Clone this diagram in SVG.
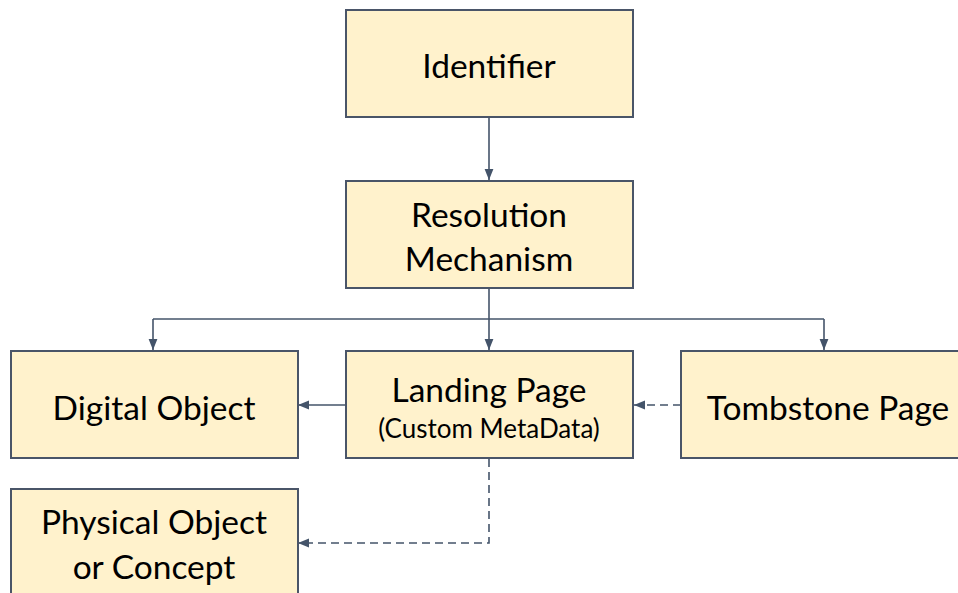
<svg xmlns="http://www.w3.org/2000/svg" width="958" height="593" viewBox="0 0 958 593">
<style>
.box{fill:#FFF2CC;stroke:#4A5568;stroke-width:2}
.t{font-family:Lato,"Open Sans","Liberation Sans",sans-serif;font-size:33.5px;fill:#000;text-anchor:middle}
.s{font-size:26px}
.c{fill:none;stroke:#44546A;stroke-width:1.6}
.d{stroke-dasharray:8,5}
</style>
<defs>
<marker id="ah2" viewBox="0 0 10 10" refX="10" refY="5" markerWidth="11" markerHeight="11" markerUnits="userSpaceOnUse" orient="auto">
<path d="M0,1 L10,5 L0,9 z" fill="#44546A"/>
</marker>
</defs>
<g id="connectors">
<path class="c" d="M489,118 V180" marker-end="url(#ah2)"/>
<path class="c" d="M489,289 V350" marker-end="url(#ah2)"/>
<path class="c" d="M153,319 H824"/>
<path class="c" d="M153,319 V350" marker-end="url(#ah2)"/>
<path class="c" d="M824,319 V350" marker-end="url(#ah2)"/>
<path class="c" d="M346,405 H298" marker-end="url(#ah2)"/>
<path class="c d" d="M681,405 H634" marker-end="url(#ah2)"/>
<path class="c d" d="M489,459 V543 H298" marker-end="url(#ah2)"/>
</g>
<g id="identifier"><rect class="box" x="346" y="10" width="287" height="107"/><text class="t" x="489" y="78">Identifier</text></g>
<g id="resolution"><rect class="box" x="346" y="181" width="287" height="107"/><text class="t" x="489" y="227">Resolution</text><text class="t" x="489" y="271">Mechanism</text></g>
<g id="digital"><rect class="box" x="11" y="351" width="287" height="107"/><text class="t" x="154" y="420">Digital Object</text></g>
<g id="landing"><rect class="box" x="346" y="351" width="287" height="107"/><text class="t" x="489" y="402">Landing Page</text><text class="t s" x="489" y="438">(Custom MetaData)</text></g>
<g id="tombstone"><rect class="box" x="681" y="351" width="287" height="107"/><text class="t" x="828" y="420">Tombstone Page</text></g>
<g id="physical"><rect class="box" x="11" y="489" width="287" height="120"/><text class="t" x="154" y="534">Physical Object</text><text class="t" x="154" y="579">or Concept</text></g>
</svg>
